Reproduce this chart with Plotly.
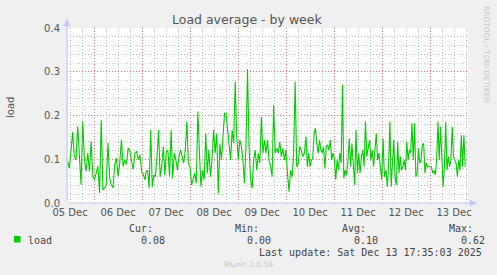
import pandas as pd
import plotly.graph_objects as go

# ---- data ----
base_time = pd.Timestamp("2025-12-06 00:00")
# hour spans (relative to base_time) covered by each block of samples
segment_hours = [(-13.2, 25.5), (26.0, 65.3), (66.0, 105.2), (106.0, 145.2), (146.0, 185.6)]

load_seg1 = [0.095, 0.08, 0.118, 0.162, 0.107, 0.099, 0.175, 0.095, 0.042, 0.187,
             0.099, 0.072, 0.114, 0.072, 0.141, 0.061, 0.053, 0.069, 0.084, 0.023,
             0.19, 0.03, 0.034, 0.042, 0.137, 0.057, 0.042, 0.034, 0.088, 0.103,
             0.061, 0.091, 0.145, 0.084, 0.099, 0.088, 0.126, 0.118, 0.099, 0.076,
             0.114, 0.118, 0.099, 0.11, 0.072, 0.065, 0.053]
load_seg2 = [0.072, 0.075, 0.034, 0.167, 0.037, 0.064, 0.06, 0.106, 0.167, 0.06,
             0.083, 0.129, 0.064, 0.121, 0.117, 0.06, 0.167, 0.056, 0.114, 0.099,
             0.075, 0.106, 0.121, 0.106, 0.091, 0.121, 0.186, 0.091, 0.083, 0.041,
             0.053, 0.068, 0.045, 0.209, 0.114, 0.037, 0.075, 0.053, 0.159, 0.068,
             0.121, 0.06, 0.099, 0.167, 0.114, 0.159, 0.022, 0.136, 0.099, 0.167,
             0.205]
load_seg3 = [0.205, 0.167, 0.129, 0.098, 0.167, 0.136, 0.277, 0.152, 0.098, 0.144,
             0.129, 0.098, 0.045, 0.129, 0.306, 0.129, 0.053, 0.034, 0.098, 0.121,
             0.075, 0.114, 0.091, 0.197, 0.114, 0.144, 0.114, 0.144, 0.098, 0.083,
             0.06, 0.224, 0.114, 0.125, 0.114, 0.14, 0.106, 0.125, 0.098, 0.121,
             0.068, 0.026, 0.075, 0.06, 0.114, 0.277, 0.083, 0.091, 0.129, 0.121,
             0.106, 0.114]
load_seg4 = [0.152, 0.083, 0.114, 0.083, 0.098, 0.102, 0.159, 0.171, 0.136, 0.114,
             0.144, 0.121, 0.114, 0.129, 0.079, 0.129, 0.133, 0.121, 0.144, 0.098,
             0.114, 0.102, 0.053, 0.098, 0.075, 0.114, 0.091, 0.27, 0.056, 0.075,
             0.064, 0.094, 0.148, 0.083, 0.136, 0.091, 0.041, 0.167, 0.068, 0.114,
             0.068, 0.106, 0.121, 0.083, 0.186, 0.106, 0.121, 0.144, 0.098, 0.121,
             0.083, 0.114, 0.159, 0.098, 0.114, 0.083, 0.053, 0.148, 0.06]
load_seg5 = [0.075, 0.037, 0.083, 0.186, 0.037, 0.098, 0.144, 0.06, 0.041, 0.14,
             0.068, 0.106, 0.075, 0.083, 0.098, 0.075, 0.14, 0.098, 0.121, 0.114,
             0.182, 0.098, 0.182, 0.06, 0.068, 0.125, 0.091, 0.098, 0.133, 0.136,
             0.068, 0.091, 0.083, 0.083, 0.083, 0.083, 0.068, 0.075, 0.064, 0.098,
             0.186, 0.098, 0.174, 0.083, 0.037, 0.083, 0.186, 0.075, 0.106, 0.083,
             0.098, 0.174, 0.106, 0.098, 0.091, 0.06, 0.098, 0.075, 0.155, 0.083,
             0.155, 0.083]
segments = [load_seg1, load_seg2, load_seg3, load_seg4, load_seg5]

x_range_hours = (-13.5, 187.0)
y_ticks = [0.0, 0.1, 0.2, 0.3, 0.4]
y_minor = [0.02, 0.04, 0.06, 0.08, 0.12, 0.14, 0.16, 0.18, 0.22, 0.24, 0.26, 0.28,
           0.32, 0.34, 0.36, 0.38]
legend_stats = {"Cur:": "0.08", "Min:": "0.00", "Avg:": "0.10", "Max:": "0.62"}
last_update = "Last update: Sat Dec 13 17:35:03 2025"

# ---- build time axis ----
xs, ys = [], []
for (h0, h1), vals in zip(segment_hours, segments):
    n = len(vals)
    step = (h1 - h0) / (n - 1)
    for i, v in enumerate(vals):
        xs.append(base_time + pd.Timedelta(hours=h0 + i * step))
        ys.append(v)

x0 = base_time + pd.Timedelta(hours=x_range_hours[0])
x1 = base_time + pd.Timedelta(hours=x_range_hours[1])

W, H = 497, 275
L, R, T, B = 67, 29, 28, 72
pw, ph = W - L - R, H - T - B


def px(xp):
    return (xp - L) / pw


def py(yp):
    return (H - B - yp) / ph


major_grid = "rgba(230,120,120,0.95)"
minor_grid = "rgba(190,190,190,0.9)"
dots = "1px,2px"
tick_font = dict(family="DejaVu Sans", size=10, color="#555555")

fig = go.Figure()
# invisible copy on the overlay axis so that its (red) grid is rendered
fig.add_trace(go.Scatter(x=xs, y=ys, mode="lines", yaxis="y2",
                         line=dict(color="rgba(0,0,0,0)", width=0),
                         showlegend=False, hoverinfo="skip"))
fig.add_trace(go.Scatter(x=xs, y=ys, mode="lines",
                         line=dict(color="#00cc00", width=1.1),
                         name="load", showlegend=False, hoverinfo="skip"))

fig.update_layout(
    width=W, height=H,
    margin=dict(l=L, r=R, t=T, b=B),
    paper_bgcolor="#f0f0f0", plot_bgcolor="#ffffff",
    showlegend=False,
    xaxis=dict(
        type="date", range=[x0, x1],
        tick0="2025-12-06", dtick=86400000,
        ticklabelmode="period", tickformat="%d %b",
        showgrid=True, gridcolor=major_grid, griddash=dots, gridwidth=1,
        minor=dict(dtick=6 * 3600 * 1000, showgrid=True, gridcolor=minor_grid,
                   griddash=dots, gridwidth=1),
        showline=False, zeroline=False, ticks="", tickfont=tick_font,
        ticklabelstandoff=2, fixedrange=True,
    ),
    yaxis=dict(
        range=[0, 0.4], tickmode="array", tickvals=y_ticks, tickformat=".1f",
        showgrid=True, gridcolor=major_grid, griddash=dots, gridwidth=1,
        minor=dict(tickmode="array", tickvals=y_minor, showgrid=True,
                   gridcolor=minor_grid, griddash=dots, gridwidth=1),
        showline=False, zeroline=False, ticks="", ticklabelstandoff=6,
        tickfont=tick_font, fixedrange=True,
    ),
    yaxis2=dict(
        overlaying="y", side="left", range=[0, 0.4], tickmode="array",
        tickvals=y_ticks, showticklabels=False, ticks="",
        showgrid=True, gridcolor=major_grid, griddash=dots, gridwidth=1,
        showline=False, zeroline=False, fixedrange=True,
    ),
)

axis_col = "#c4c8f4"
# axis lines with arrow heads
fig.add_annotation(xref="paper", yref="paper", x=0, y=py(19), ax=0, ay=184,
                   axref="pixel", ayref="pixel", text="", showarrow=True,
                   arrowhead=2, arrowsize=1.2, arrowwidth=1.2, arrowcolor=axis_col)
fig.add_annotation(xref="paper", yref="paper", x=px(477), y=0, ax=-410, ay=0,
                   text="", showarrow=True,
                   arrowhead=2, arrowsize=1.2, arrowwidth=1.2, arrowcolor=axis_col)


def label(xp, yp, text, font, xanchor="center", angle=0):
    fig.add_annotation(xref="paper", yref="paper", x=px(xp), y=py(yp),
                       xanchor=xanchor, yanchor="middle", text=text,
                       textangle=angle, showarrow=False, font=font)


# title and side texts
label(247, 19, "Load average - by week",
      dict(family="DejaVu Sans", size=12.5, color="#555555"))
label(10, 108, "load", dict(family="DejaVu Sans", size=10, color="#555555"), angle=-90)
label(487, 54, "RRDTOOL / TOBI OETIKER",
      dict(family="DejaVu Sans", size=7.5, color="#c8c8c8"), angle=90)

mono = dict(family="DejaVu Sans Mono", size=10, color="#444444")
# legend swatch and label
fig.add_shape(type="rect", xref="paper", yref="paper",
              x0=px(14), x1=px(20.5), y0=py(242.5), y1=py(236),
              fillcolor="#00cc00", line=dict(width=0))
label(26, 240, "load", mono, xanchor="left")

stat_left = [127, 233, 340, 447]
for xl, (lab, val) in zip(stat_left, legend_stats.items()):
    label(xl, 228, lab, mono, xanchor="left")
    label(xl + 12, 240, val, mono, xanchor="left")

label(484, 252, last_update, mono, xanchor="right")
label(248, 264, "Munin 2.0.56", dict(family="DejaVu Sans", size=7.5, color="#c8c8c8"))

fig.write_html("out.html")
